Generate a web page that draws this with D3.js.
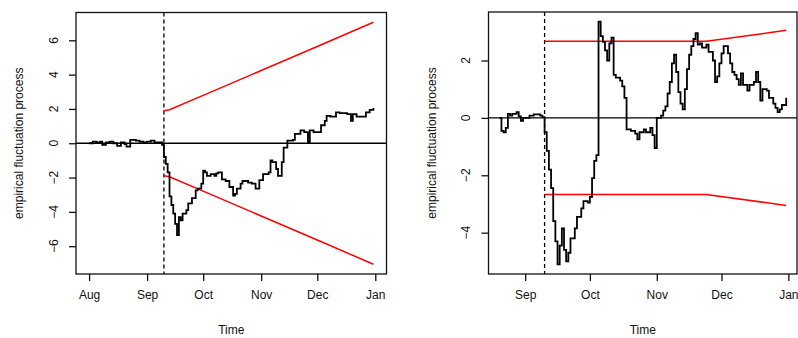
<!DOCTYPE html>
<html>
<head>
<meta charset="utf-8">
<script src="https://cdn.jsdelivr.net/npm/d3@7"></script>
<style>
  body { margin: 0; background: #fff; }
  text { font-family: "Liberation Sans", Arial, sans-serif; fill: #111; }
</style>
</head>
<body>
<div id="chart"></div>
<script>
var svgWidth = 798;
var svgHeight = 338;
var year = "2008";

// left panel: fluctuation process (date, value)
var leftProcess = [
  ["08-01", 0.00], ["08-03", 0.10], ["08-05", 0.05], ["08-07", 0.10], ["08-08", -0.10],
  ["08-10", 0.05], ["08-12", 0.10], ["08-14", 0.00], ["08-16", -0.15], ["08-18", 0.05],
  ["08-20", -0.05], ["08-21", -0.20], ["08-23", 0.20], ["08-26", 0.15], ["08-28", 0.10],
  ["08-30", 0.05], ["09-01", 0.10], ["09-03", 0.15], ["09-05", 0.05], ["09-07", 0.05],
  ["09-09", -0.10], ["09-10", -0.80], ["09-11", -1.20], ["09-12", -1.70], ["09-13", -3.10],
  ["09-14", -3.60], ["09-15", -4.10], ["09-16", -4.70], ["09-17", -5.35], ["09-18", -4.30],
  ["09-19", -4.50], ["09-20", -4.10], ["09-22", -3.90], ["09-23", -3.50], ["09-25", -3.20],
  ["09-27", -2.75], ["09-28", -2.65], ["09-30", -2.35], ["10-01", -1.60], ["10-02", -1.70],
  ["10-03", -1.90], ["10-05", -1.80], ["10-07", -1.90], ["10-08", -1.75], ["10-09", -1.70],
  ["10-11", -2.10], ["10-13", -2.20], ["10-15", -2.55], ["10-17", -3.05], ["10-18", -2.95],
  ["10-19", -2.65], ["10-21", -2.35], ["10-22", -2.20], ["10-25", -2.30], ["10-27", -2.35],
  ["10-29", -2.65], ["10-31", -2.15], ["11-02", -1.80], ["11-05", -1.70], ["11-06", -1.00],
  ["11-07", -1.10], ["11-09", -1.50], ["11-10", -1.90], ["11-12", -1.10], ["11-13", -0.25],
  ["11-15", 0.15], ["11-18", 0.20], ["11-19", 0.55], ["11-22", 0.75], ["11-24", 0.65],
  ["11-26", 0.05], ["11-27", 0.75], ["11-29", 0.65], ["12-02", 0.65], ["12-03", 1.05],
  ["12-05", 1.30], ["12-06", 1.60], ["12-08", 1.55], ["12-11", 1.80], ["12-13", 1.75],
  ["12-17", 1.70], ["12-19", 1.30], ["12-20", 1.70], ["12-22", 1.55], ["12-25", 1.55],
  ["12-27", 1.80], ["12-29", 1.95], ["12-31", 2.05]
];
// left panel: upper boundary (lower one is its mirror)
var leftBoundary = [
  ["09-10", 1.90], ["09-13", 1.95], ["10-01", 2.79], ["11-01", 4.24], ["12-01", 5.64], ["12-31", 7.05]
];

// right panel: fluctuation process (date, value)
var rightProcess = [
  ["08-20", 0.00], ["08-21", -0.45], ["08-22", -0.50], ["08-23", -0.35], ["08-24", 0.14],
  ["08-25", 0.08], ["08-26", 0.14], ["08-28", 0.20], ["08-29", 0.05], ["08-30", -0.10],
  ["08-31", 0.00], ["09-03", 0.08], ["09-05", 0.12], ["09-08", 0.08], ["09-09", 0.03],
  ["09-10", -0.50], ["09-11", -1.15], ["09-12", -1.80], ["09-13", -2.45], ["09-14", -3.60],
  ["09-15", -4.30], ["09-16", -5.10], ["09-17", -4.45], ["09-18", -3.85], ["09-19", -4.60],
  ["09-20", -5.00], ["09-21", -4.70], ["09-22", -4.20], ["09-24", -3.85], ["09-25", -3.45],
  ["09-27", -3.15], ["09-28", -2.90], ["09-30", -2.95], ["10-01", -2.75], ["10-02", -2.10],
  ["10-03", -1.50], ["10-04", -1.30], ["10-05", 3.35], ["10-06", 2.85], ["10-07", 2.65],
  ["10-08", 2.35], ["10-09", 2.00], ["10-10", 2.60], ["10-11", 2.80], ["10-12", 1.50],
  ["10-13", 1.40], ["10-15", 1.30], ["10-16", 1.10], ["10-17", 0.70], ["10-18", -0.40],
  ["10-20", -0.45], ["10-22", -0.55], ["10-23", -0.75], ["10-24", -0.50], ["10-26", -0.40],
  ["10-27", -0.50], ["10-29", -0.35], ["10-30", -0.60], ["10-31", -1.05], ["11-01", 0.00],
  ["11-03", 0.08], ["11-04", 0.25], ["11-05", 0.40], ["11-06", 0.85], ["11-07", 1.25],
  ["11-08", 1.90], ["11-09", 2.20], ["11-10", 1.60], ["11-11", 0.90], ["11-12", 0.50],
  ["11-13", 0.30], ["11-14", 1.00], ["11-15", 1.70], ["11-16", 2.20], ["11-17", 2.50],
  ["11-18", 2.75], ["11-19", 2.95], ["11-20", 2.55], ["11-21", 2.60], ["11-22", 2.45],
  ["11-24", 2.55], ["11-25", 2.30], ["11-27", 2.00], ["11-28", 1.25], ["11-29", 1.45],
  ["11-30", 1.90], ["12-01", 2.25], ["12-02", 2.50], ["12-04", 2.25], ["12-05", 1.90],
  ["12-06", 1.60], ["12-07", 1.50], ["12-08", 1.35], ["12-09", 1.15], ["12-10", 1.55],
  ["12-11", 1.15], ["12-13", 0.95], ["12-14", 1.15], ["12-16", 1.25], ["12-17", 1.60],
  ["12-18", 1.25], ["12-19", 0.60], ["12-20", 1.00], ["12-22", 0.95], ["12-23", 0.70],
  ["12-25", 0.50], ["12-26", 0.35], ["12-27", 0.20], ["12-28", 0.30], ["12-29", 0.45],
  ["12-31", 0.70]
];
var rightBoundary = [
  ["09-10", 2.67], ["11-24", 2.67], ["12-31", 3.05]
];

var breakDate = "09-10";
var leftYTicks = [-6, -4, -2, 0, 2, 4, 6];
var rightYTicks = [-4, -2, 0, 2];
var leftXLim = ["2008-07-25", "2009-01-07"];
var rightXLim = ["2008-08-15", "2009-01-05"];
var leftYLim = [-7.62, 7.62];
var rightYLim = [-5.44, 3.69];
var yTitle = "empirical fluctuation process";
var xTitle = "Time";

var parse = d3.timeParse("%Y-%m-%d");
function toPoints(arr) {
  return arr.map(d => ({ date: parse(year + "-" + d[0]), value: d[1] }));
}

var svg = d3.select("#chart")
  .append("svg")
  .attr("width", svgWidth)
  .attr("height", svgHeight);

function drawPanel(opt) {
  var box = opt.box;
  var x = d3.scaleTime()
    .domain(opt.xlim.map(parse))
    .range([box.left, box.right]);
  var y = d3.scaleLinear()
    .domain(opt.ylim)
    .range([box.bottom, box.top]);

  var g = svg.append("g");

  // clip
  var clipId = "clip" + opt.id;
  svg.append("clipPath").attr("id", clipId)
    .append("rect")
    .attr("x", box.left).attr("y", box.top)
    .attr("width", box.right - box.left).attr("height", box.bottom - box.top);

  var plot = g.append("g").attr("clip-path", `url(#${clipId})`);

  // zero line
  plot.append("line")
    .attr("x1", box.left).attr("x2", box.right)
    .attr("y1", y(0)).attr("y2", y(0))
    .attr("stroke", "#000").attr("stroke-width", 1.3);

  // break line
  var bx = x(parse(year + "-" + breakDate));
  plot.append("line")
    .attr("x1", bx).attr("x2", bx)
    .attr("y1", box.top).attr("y2", box.bottom)
    .attr("stroke", "#000").attr("stroke-width", 1.3)
    .attr("stroke-dasharray", "4,3");

  // boundaries
  var bound = toPoints(opt.boundary);
  var boundLine = d3.line().x(d => x(d.date)).y(d => y(d.value));
  plot.append("path")
    .attr("d", boundLine(bound))
    .attr("fill", "none").attr("stroke", "#ff0000").attr("stroke-width", 1.5);
  plot.append("path")
    .attr("d", boundLine(bound.map(d => ({ date: d.date, value: -d.value }))))
    .attr("fill", "none").attr("stroke", "#ff0000").attr("stroke-width", 1.5);

  // process
  var proc = toPoints(opt.process);
  plot.append("path")
    .attr("d", d3.line().curve(d3.curveStepAfter).x(d => x(d.date)).y(d => y(d.value))(proc))
    .attr("fill", "none").attr("stroke", "#000").attr("stroke-width", 1.8)
    .attr("stroke-linejoin", "miter");

  // box
  g.append("rect")
    .attr("x", box.left).attr("y", box.top)
    .attr("width", box.right - box.left).attr("height", box.bottom - box.top)
    .attr("fill", "none").attr("stroke", "#111").attr("stroke-width", 1.3);

  // x axis
  var xAxis = d3.axisBottom(x)
    .ticks(d3.timeMonth.every(1))
    .tickFormat(d3.timeFormat("%b"))
    .tickSize(7)
    .tickPadding(9);
  var xg = g.append("g")
    .attr("transform", `translate(0, ${box.bottom})`)
    .call(xAxis);
  xg.select(".domain").remove();
  xg.selectAll(".tick line").attr("stroke", "#111").attr("stroke-width", 1.3);
  xg.selectAll(".tick text")
    .attr("font-family", "Liberation Sans, Arial, sans-serif")
    .attr("font-size", 12).attr("fill", "#111");

  // y axis with labels parallel to axis
  var yAxis = d3.axisLeft(y).tickValues(opt.yTicks).tickSize(7).tickFormat("");
  var yg = g.append("g")
    .attr("transform", `translate(${box.left}, 0)`)
    .call(yAxis);
  yg.select(".domain").remove();
  yg.selectAll(".tick line").attr("stroke", "#111").attr("stroke-width", 1.3);
  g.selectAll(".ylab")
    .data(opt.yTicks)
    .enter()
    .append("text")
    .attr("class", "ylab")
    .attr("transform", d => `translate(${box.left - 18.5}, ${y(d)}) rotate(-90)`)
    .attr("text-anchor", "middle")
    .attr("font-size", 12)
    .text(d => d3.format("")(d));

  // titles
  g.append("text")
    .attr("transform", `translate(${box.left - 53}, ${(box.top + box.bottom) / 2}) rotate(-90)`)
    .attr("text-anchor", "middle")
    .attr("font-size", 12)
    .text(yTitle);

  g.append("text")
    .attr("x", (box.left + box.right) / 2)
    .attr("y", 334)
    .attr("text-anchor", "middle")
    .attr("font-size", 12)
    .text(xTitle);
}

drawPanel({
  id: "L",
  box: { left: 76, right: 386.5, top: 12.5, bottom: 274 },
  xlim: leftXLim, ylim: leftYLim, yTicks: leftYTicks,
  process: leftProcess, boundary: leftBoundary
});

drawPanel({
  id: "R",
  box: { left: 488.5, right: 797, top: 12, bottom: 274 },
  xlim: rightXLim, ylim: rightYLim, yTicks: rightYTicks,
  process: rightProcess, boundary: rightBoundary
});
</script>
</body>
</html>
